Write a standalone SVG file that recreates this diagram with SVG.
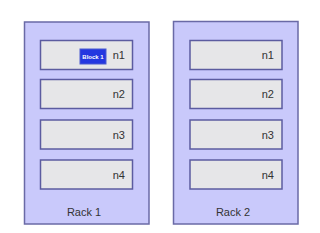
<svg xmlns="http://www.w3.org/2000/svg" width="320" height="233" viewBox="0 0 320 233">
<style>
.rack{fill:#c9c9fb;stroke:#6a6aa6;stroke-width:1.5}
.node{fill:#e6e6e8;stroke:#5c5ca0;stroke-width:1.5}
.lbl{font-family:"Liberation Sans",Arial,sans-serif;font-size:11px;fill:#333}
.nl{text-anchor:end}
.rl{text-anchor:middle}
.blk{fill:#2437e0;stroke:#4a5ad0;stroke-width:1}
.bt{font-family:"Liberation Sans",Arial,sans-serif;font-size:6px;font-weight:bold;fill:#fff;text-anchor:middle}
</style>
<rect width="320" height="233" fill="#fff"/>
<g id="rack1">
<rect class="rack" x="24.5" y="22" width="124.5" height="202"/>
<text class="lbl rl" x="84" y="216">Rack 1</text>
</g>
<g id="rack2">
<rect class="rack" x="173.5" y="21.5" width="124.5" height="202.5"/>
<text class="lbl rl" x="233" y="216">Rack 2</text>
</g>
<g id="r1n1"><rect class="node" x="40.5" y="40.5" width="92" height="29"/><text class="lbl nl" x="125" y="59">n1</text></g>
<g id="block1"><rect class="blk" x="80" y="49" width="26" height="15"/><text class="bt" x="93" y="58.5">Block 1</text></g>
<g id="r1n2"><rect class="node" x="40.5" y="79.5" width="92" height="29"/><text class="lbl nl" x="125" y="98">n2</text></g>
<g id="r1n3"><rect class="node" x="40.5" y="120" width="92" height="29"/><text class="lbl nl" x="125" y="138.5">n3</text></g>
<g id="r1n4"><rect class="node" x="40.5" y="160" width="92" height="29"/><text class="lbl nl" x="125" y="178.5">n4</text></g>
<g id="r2n1"><rect class="node" x="190" y="40.5" width="92" height="29"/><text class="lbl nl" x="274" y="59">n1</text></g>
<g id="r2n2"><rect class="node" x="190" y="79.5" width="92" height="29"/><text class="lbl nl" x="274" y="98">n2</text></g>
<g id="r2n3"><rect class="node" x="190" y="120" width="92" height="29"/><text class="lbl nl" x="274" y="138.5">n3</text></g>
<g id="r2n4"><rect class="node" x="190" y="160" width="92" height="29"/><text class="lbl nl" x="274" y="178.5">n4</text></g>
<g id="connectors"/>
</svg>
